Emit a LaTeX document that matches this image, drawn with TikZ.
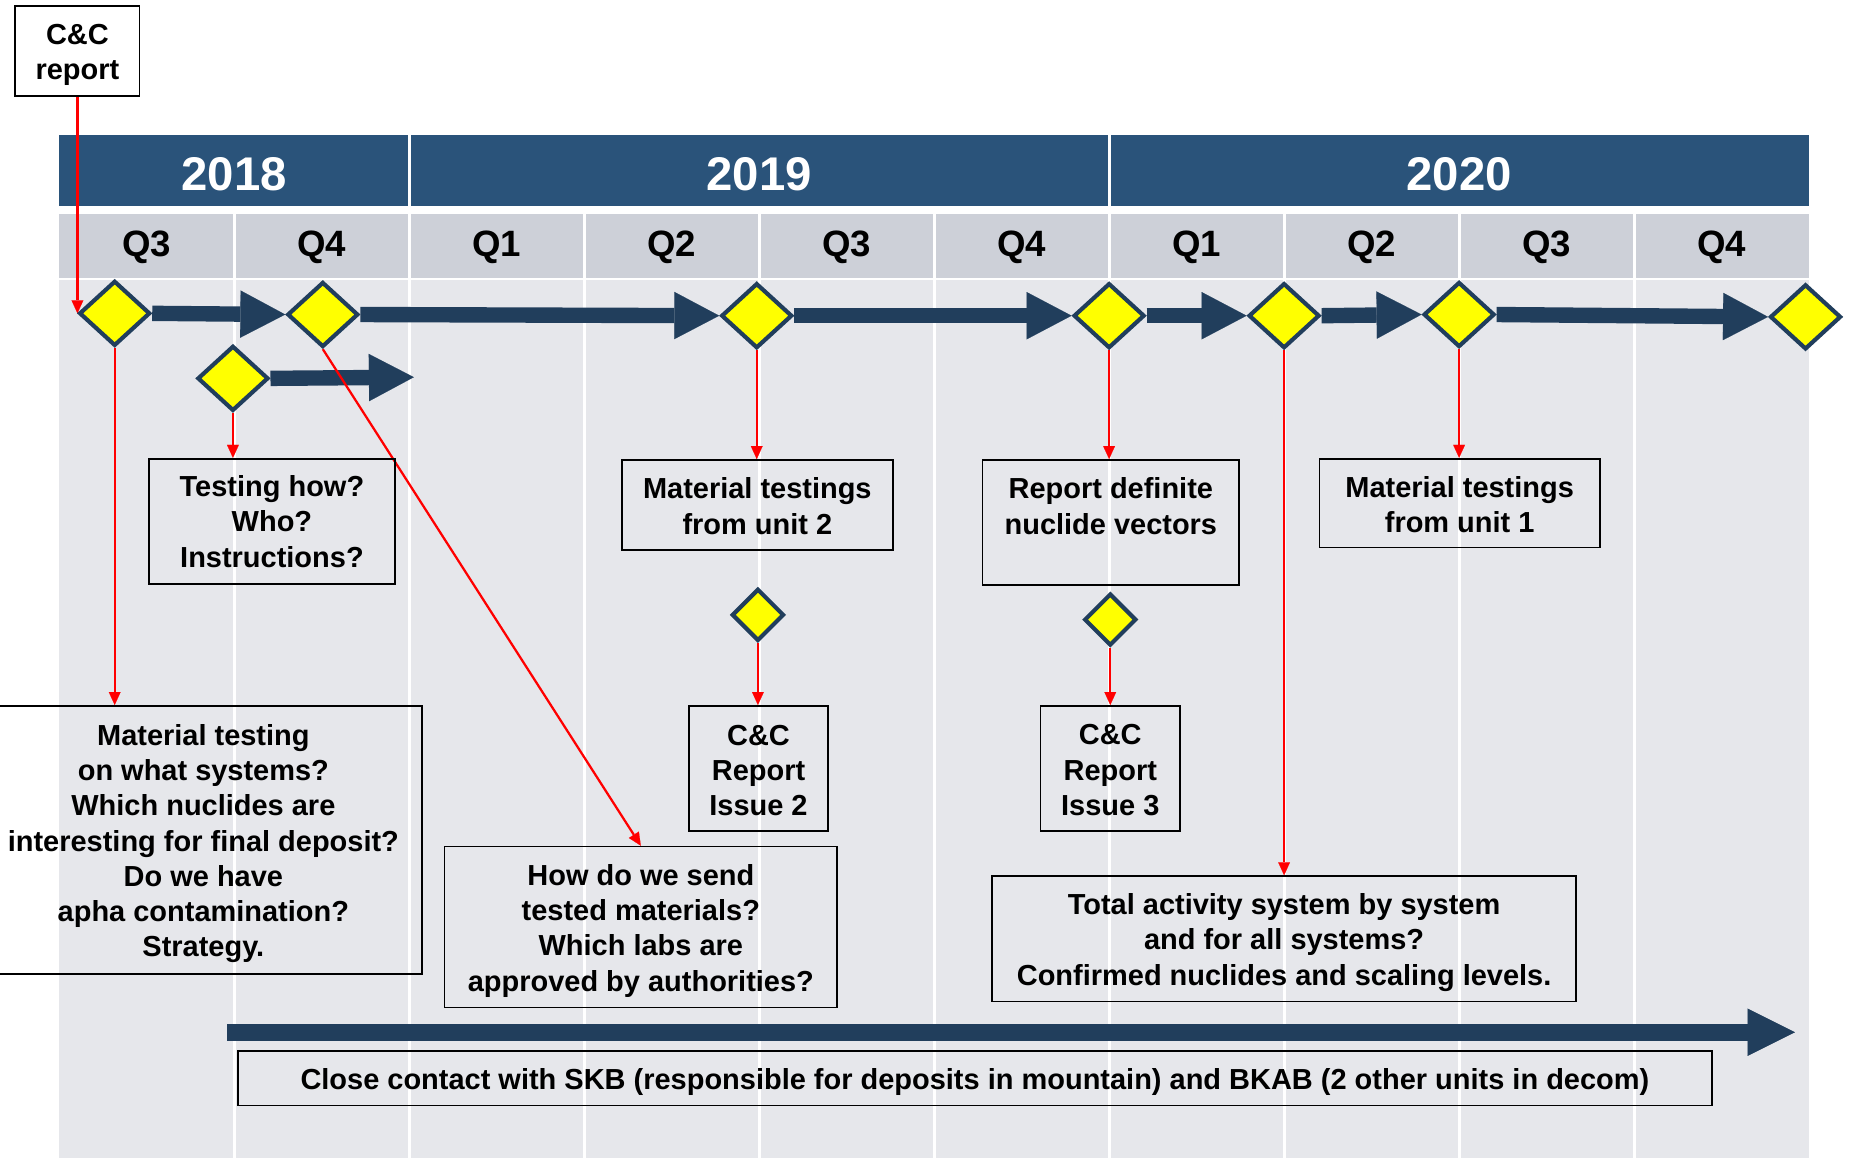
\documentclass[tikz,border=0pt]{standalone}
\usepackage{fontspec}
\setmainfont{Liberation Sans}
\usetikzlibrary{arrows.meta,shapes.geometric,calc}
\definecolor{yearblue}{RGB}{42,83,122}
\definecolor{qgray}{RGB}{205,208,216}
\definecolor{bggray}{RGB}{230,231,235}
\definecolor{navy}{RGB}{33,62,92}
\definecolor{dyellow}{RGB}{255,255,0}
\definecolor{dred}{RGB}{255,0,0}
\pgfdeclarelayer{back}
\pgfdeclarelayer{mid}
\pgfsetlayers{back,mid,main}
\newcommand\tup{\rule{0pt}{24pt}}
\newcommand\tsm{\rule{0pt}{20pt}}
\begin{document}
\begin{tikzpicture}[x=1pt,y=-1pt,
  ms/.style={diamond, draw=navy, fill=dyellow, line width=3.5pt, minimum width=60pt, minimum height=55pt, inner sep=0pt},
  ss/.style={diamond, draw=navy, fill=dyellow, line width=3.5pt, minimum width=44pt, minimum height=44pt, inner sep=0pt},
  box/.style={draw=black, line width=1.5pt, align=center, inner sep=0pt, font=\bfseries\fontsize{24.5pt}{29.8pt}\selectfont},
  txt/.style={align=center, inner sep=0pt, font=\bfseries\fontsize{24.5pt}{29.8pt}\selectfont},
  yearlbl/.style={anchor=base, text=white, inner sep=0pt, font=\bfseries\fontsize{40pt}{48pt}\selectfont},
  qlbl/.style={anchor=base, text=black, inner sep=0pt, font=\bfseries\fontsize{31pt}{36pt}\selectfont},
  fat/.style={draw=navy, line width=13pt, -{Triangle[length=38pt,width=40pt,line width=0.1pt]}},
  redarr/.style={draw=dred, line width=1.9pt, -{Triangle[length=11pt,width=10pt,line width=0.1pt]}}
]
\useasboundingbox (0,0) rectangle (1568,979);

% ---------- background grid ----------
\begin{pgfonlayer}{back}
  \fill[yearblue] (50,114) rectangle (1530,174);
  \fill[qgray] (50,181) rectangle (1530,235);
  \fill[bggray] (50,237) rectangle (1530,979);
  \foreach \x in {198,346,494,642,790,938,1086,1234,1382}
    \draw[white, line width=2.5pt] (\x,181) -- (\x,979);
  \draw[white, line width=2.5pt] (346,114) -- (346,174);
  \draw[white, line width=2.5pt] (938,114) -- (938,174);
\end{pgfonlayer}

% ---------- year and quarter labels ----------
\node[yearlbl] (y18) at (198,161.5) {2018};
\node[yearlbl] (y19) at (642,161.5) {2019};
\node[yearlbl] (y20) at (1234,161.5) {2020};
\node[qlbl] (q1) at (124,217) {Q3};
\node[qlbl] (q2) at (272,217) {Q4};
\node[qlbl] (q3) at (420,217) {Q1};
\node[qlbl] (q4) at (568,217) {Q2};
\node[qlbl] (q5) at (716,217) {Q3};
\node[qlbl] (q6) at (864,217) {Q4};
\node[qlbl] (q7) at (1012,217) {Q1};
\node[qlbl] (q8) at (1160,217) {Q2};
\node[qlbl] (q9) at (1308,217) {Q3};
\node[qlbl] (q10) at (1456,217) {Q4};

% ---------- milestones ----------
\node[ms] (d1) at (97,265) {};
\node[ms] (d2) at (273,266) {};
\node[ms] (d3) at (197,320) {};
\node[ms] (d4) at (640,267) {};
\node[ms] (d5) at (938,267) {};
\node[ms] (d6) at (1086,267) {};
\node[ms] (d7) at (1234,266) {};
\node[ms] (d8) at (1527,268) {};
\node[ss] (d9) at (641,520) {};
\node[ss] (d10) at (939,524) {};

% ---------- text boxes ----------
\node[box, minimum width=105pt, minimum height=76pt] (ccr) at (65.5,43) {\tup C\&C\\report};
\node[box, minimum width=208pt, minimum height=106pt] (test) at (230,441) {Testing how?\\Who?\\Instructions?};
\node[box, minimum width=370pt, minimum height=227pt] (mat) at (172,710.5) {\tup Material testing\\on what systems?\\Which nuclides are\\interesting for final deposit?\\Do we have\\apha contamination?\\Strategy.};
\node[box, minimum width=332pt, minimum height=136pt] (how) at (542,784) {\tup How do we send\\tested materials?\\Which labs are\\approved by authorities?};
\node[box, minimum width=229pt, minimum height=76pt] (mt2) at (640.5,427) {\tsm Material testings\\from unit 2};
\node[box, minimum width=117pt, minimum height=106pt] (cc2) at (641.5,650) {\tsm C\&C\\Report\\Issue 2};
\node[box, minimum width=217pt, minimum height=106pt] (rdv) at (939.5,442) {};
\node[txt] (rdvt) at (939.5,427) {\tsm Report definite\\nuclide vectors};
\node[box, minimum width=118pt, minimum height=106pt] (cc3) at (939,650) {\tsm C\&C\\Report\\Issue 3};
\node[box, minimum width=494pt, minimum height=106pt] (total) at (1086,794) {\tup Total activity system by system\\and for all systems?\\Confirmed nuclides and scaling levels.};
\node[box, minimum width=237pt, minimum height=75pt] (mt1) at (1234.5,425.5) {\tsm Material testings\\from unit 1};
\node[box, minimum width=1247pt, minimum height=46pt] (close) at (824.5,912) {\tup Close contact with SKB (responsible for deposits in mountain) and BKAB (2 other units in decom)};

\coordinate (e3) at (350,319);
\coordinate (bs) at (192,873);
\coordinate (be) at (1518,873);

% ---------- connectors ----------
\begin{pgfonlayer}{mid}
  \draw[fat] (d1.east) -- (d2.west);
  \draw[fat] (d2.east) -- (d4.west);
  \draw[fat] (d3.east) -- (e3);
  \draw[fat] (d4.east) -- (d5.west);
  \draw[fat] (d5.east) -- (d6.west);
  \draw[fat] (d6.east) -- (d7.west);
  \draw[fat] (d7.east) -- (d8.west);
  \draw[draw=navy, line width=14pt, -{Triangle[length=40pt,width=40pt,line width=0.1pt]}] (bs) -- (be);

  \draw[redarr] (ccr.south) -- (ccr.south |- d1.west);
  \draw[redarr] (d1.south) -- (d1.south |- mat.north);
  \draw[redarr] (d3.south) -- (d3.south |- test.north);
  \draw[redarr] (d2.south) -- (how.north);
  \draw[redarr] (d4.south) -- (d4.south |- mt2.north);
  \draw[redarr] (d9.south) -- (d9.south |- cc2.north);
  \draw[redarr] (d5.south) -- (d5.south |- rdv.north);
  \draw[redarr] (d10.south) -- (d10.south |- cc3.north);
  \draw[redarr] (d6.south) -- (d6.south |- total.north);
  \draw[redarr] (d7.south) -- (d7.south |- mt1.north);
\end{pgfonlayer}
\end{tikzpicture}
\end{document}
